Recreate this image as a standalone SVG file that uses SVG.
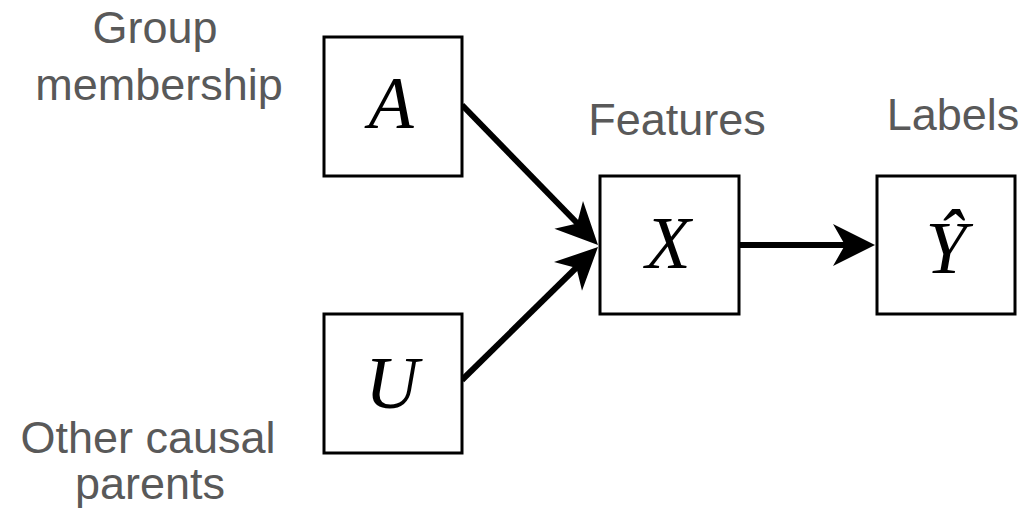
<svg xmlns="http://www.w3.org/2000/svg" width="1026" height="512" viewBox="0 0 1026 512">
<defs>
<style>
.box{fill:#fff;stroke:#000;stroke-width:3}
.lbl{font-family:"Liberation Sans",Arial,sans-serif;font-size:45px;fill:#595959;text-anchor:middle}
.math{font-family:"Liberation Serif","Times New Roman",serif;font-style:italic;font-size:74px;fill:#000;text-anchor:middle}
.edge{stroke:#000;stroke-width:6;fill:none}
.head{fill:#000}
</style>
</defs>
<rect width="1026" height="512" fill="#fff"/>
<g id="connectors">
<path class="edge" d="M462,105 L578,224"/>
<path class="edge" d="M462,380 L577,267"/>
<path class="edge" d="M739,245 L846,245"/>
<polygon class="head" points="598,245 554.4,228.8 577.1,223.5 583,201"/>
<polygon class="head" points="598,247 582,290.7 576.5,268 554,262.1"/>
<polygon class="head" points="875,245 833,224 845,245 833,266"/>
</g>
<g id="node-A">
<rect class="box" x="324" y="37" width="138" height="139"/>
<text class="math" x="391" y="128">A</text>
</g>
<g id="node-U">
<rect class="box" x="324" y="314" width="138" height="139"/>
<text class="math" x="392" y="408">U</text>
</g>
<g id="node-X">
<rect class="box" x="600" y="176" width="139" height="138"/>
<text class="math" x="668" y="268">X</text>
</g>
<g id="node-Y">
<rect class="box" x="877" y="176" width="138" height="138"/>
<text class="math" x="946" y="273">Ŷ</text>
</g>
<g id="labels">
<text class="lbl" x="155" y="43">Group</text>
<text class="lbl" x="159" y="100">membership</text>
<text class="lbl" x="148" y="453">Other causal</text>
<text class="lbl" x="150" y="499">parents</text>
<text class="lbl" x="677" y="135">Features</text>
<text class="lbl" x="953" y="130">Labels</text>
</g>
</svg>
